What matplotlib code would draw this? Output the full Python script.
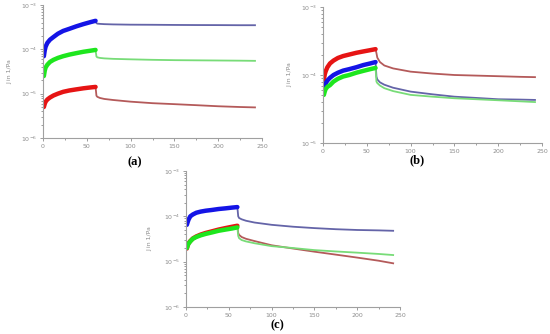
import matplotlib
matplotlib.use("Agg")
import matplotlib.pyplot as plt
from matplotlib.ticker import LogLocator, MultipleLocator, LogFormatterSciNotation, NullFormatter

# ---- data ----
t_creep = [1, 2, 3, 5, 8, 12, 17, 23, 30, 38, 46, 54, 60]
t_rec = [61, 62, 65, 70, 80, 100, 125, 150, 175, 200, 225, 242]

# panel (a)
a_blue_creep = [7.0e-5, 9.5e-5, 1.15e-4, 1.4e-4, 1.65e-4, 1.9e-4, 2.25e-4, 2.6e-4, 2.9e-4, 3.3e-4, 3.7e-4, 4.1e-4, 4.4e-4]
a_blue_rec = [3.9e-4, 3.8e-4, 3.75e-4, 3.7e-4, 3.65e-4, 3.6e-4, 3.58e-4, 3.55e-4, 3.53e-4, 3.52e-4, 3.5e-4, 3.5e-4]
a_green_creep = [2.5e-5, 3.3e-5, 3.9e-5, 4.5e-5, 5.2e-5, 5.8e-5, 6.4e-5, 7.0e-5, 7.6e-5, 8.2e-5, 8.8e-5, 9.3e-5, 9.7e-5]
a_green_rec = [6.9e-5, 6.6e-5, 6.4e-5, 6.25e-5, 6.1e-5, 5.95e-5, 5.8e-5, 5.7e-5, 5.65e-5, 5.6e-5, 5.55e-5, 5.5e-5]
a_red_creep = [5.0e-6, 5.9e-6, 6.6e-6, 7.4e-6, 8.2e-6, 9.1e-6, 1.0e-5, 1.1e-5, 1.18e-5, 1.25e-5, 1.32e-5, 1.38e-5, 1.42e-5]
a_red_rec = [9.0e-6, 8.5e-6, 8.0e-6, 7.6e-6, 7.2e-6, 6.6e-6, 6.1e-6, 5.8e-6, 5.5e-6, 5.2e-6, 5.0e-6, 4.9e-6]

# panel (b)
b_red_creep = [8.5e-5, 1.02e-4, 1.13e-4, 1.3e-4, 1.48e-4, 1.63e-4, 1.78e-4, 1.9e-4, 2.0e-4, 2.12e-4, 2.22e-4, 2.32e-4, 2.4e-4]
b_red_rec = [2.1e-4, 1.8e-4, 1.55e-4, 1.38e-4, 1.25e-4, 1.12e-4, 1.05e-4, 1.0e-4, 9.8e-5, 9.6e-5, 9.4e-5, 9.3e-5]
b_blue_creep = [6.0e-5, 6.9e-5, 7.5e-5, 8.3e-5, 9.1e-5, 1.0e-4, 1.08e-4, 1.16e-4, 1.22e-4, 1.3e-4, 1.4e-4, 1.48e-4, 1.55e-4]
b_blue_rec = [9.5e-5, 8.6e-5, 7.8e-5, 7.2e-5, 6.5e-5, 5.7e-5, 5.2e-5, 4.8e-5, 4.6e-5, 4.4e-5, 4.35e-5, 4.3e-5]
b_green_creep = [5.1e-5, 5.7e-5, 6.2e-5, 6.7e-5, 7.1e-5, 8.0e-5, 8.8e-5, 9.5e-5, 1.0e-4, 1.08e-4, 1.15e-4, 1.22e-4, 1.27e-4]
b_green_rec = [8.0e-5, 7.6e-5, 7.0e-5, 6.4e-5, 5.8e-5, 5.1e-5, 4.8e-5, 4.55e-5, 4.4e-5, 4.25e-5, 4.1e-5, 4.0e-5]

# panel (c)
c_blue_creep = [6.5e-5, 7.5e-5, 8.5e-5, 1.0e-4, 1.1e-4, 1.2e-4, 1.27e-4, 1.33e-4, 1.38e-4, 1.45e-4, 1.5e-4, 1.56e-4, 1.6e-4]
c_blue_rec = [1.0e-4, 9.2e-5, 8.6e-5, 8.0e-5, 7.3e-5, 6.5e-5, 5.9e-5, 5.5e-5, 5.2e-5, 5.0e-5, 4.9e-5, 4.8e-5]
c_red_creep = [1.95e-5, 2.3e-5, 2.55e-5, 2.85e-5, 3.25e-5, 3.6e-5, 3.95e-5, 4.3e-5, 4.65e-5, 5.1e-5, 5.5e-5, 5.9e-5, 6.2e-5]
c_red_rec = [4.3e-5, 3.9e-5, 3.5e-5, 3.2e-5, 2.85e-5, 2.3e-5, 1.95e-5, 1.66e-5, 1.43e-5, 1.23e-5, 1.05e-5, 9.2e-6]
c_green_creep = [2.0e-5, 2.3e-5, 2.5e-5, 2.8e-5, 3.2e-5, 3.5e-5, 3.8e-5, 4.1e-5, 4.4e-5, 4.8e-5, 5.1e-5, 5.4e-5, 5.7e-5]
c_green_rec = [3.7e-5, 3.3e-5, 3.0e-5, 2.8e-5, 2.55e-5, 2.2e-5, 2.0e-5, 1.8e-5, 1.68e-5, 1.58e-5, 1.48e-5, 1.4e-5]

panels = {
    "(a)": [(a_blue_creep, a_blue_rec, "blue"), (a_green_creep, a_green_rec, "green"), (a_red_creep, a_red_rec, "red")],
    "(b)": [(b_red_creep, b_red_rec, "red"), (b_blue_creep, b_blue_rec, "blue"), (b_green_creep, b_green_rec, "green")],
    "(c)": [(c_blue_creep, c_blue_rec, "blue"), (c_red_creep, c_red_rec, "red"), (c_green_creep, c_green_rec, "green")],
}
ylims = {"(a)": (1e-6, 1e-3), "(b)": (1e-5, 1e-3), "(c)": (1e-6, 1e-3)}

# ---- styles ----
creep_col = {"blue": "#1414e6", "green": "#1ee61e", "red": "#e61414"}
rec_col = {"blue": "#6464a8", "green": "#78dc78", "red": "#b45a5a"}

W, H = 550, 334
fig = plt.figure(figsize=(W / 100, H / 100), dpi=100)

def box(x0, x1, ytop, ybot):
    return [x0 / W, 1 - ybot / H, (x1 - x0) / W, (ybot - ytop) / H]

pos = {
    "(a)": box(43, 262, 5, 138),
    "(b)": box(323, 542, 7, 143),
    "(c)": box(186, 400, 171, 307),
}
caption_xy = {"(a)": (135, 162), "(b)": (417, 160), "(c)": (277, 325)}
ylabel_x = {"(a)": 10, "(b)": 290, "(c)": 150}

gray = "#8c8c8c"
for key, series in panels.items():
    ax = fig.add_axes(pos[key])
    for creep, rec, c in series:
        ax.plot([t_creep[-1]] + t_rec, [creep[-1]] + rec, color=rec_col[c], lw=1.3)
        ax.plot(t_creep, creep, color=creep_col[c], lw=3.2, solid_capstyle="round")
    ax.set_yscale("log")
    ax.set_ylim(*ylims[key])
    ax.set_xlim(0, 250)
    ax.xaxis.set_major_locator(MultipleLocator(50))
    ax.xaxis.set_minor_locator(MultipleLocator(25))
    ax.yaxis.set_major_locator(LogLocator(base=10, numticks=10))
    ax.yaxis.set_minor_locator(LogLocator(base=10, subs=range(2, 10), numticks=10))
    ax.yaxis.set_major_formatter(LogFormatterSciNotation())
    ax.yaxis.set_minor_formatter(NullFormatter())
    for s in ["top", "right"]:
        ax.spines[s].set_visible(False)
    for s in ["left", "bottom"]:
        ax.spines[s].set_color("#a0a0a0")
        ax.spines[s].set_linewidth(0.8)
    ax.tick_params(which="both", colors=gray, labelsize=4.5, width=0.6, pad=1.5)
    ax.tick_params(which="major", length=2.5)
    ax.tick_params(which="minor", length=1.5)
    ax.set_facecolor("none")
    cx, cy = caption_xy[key]
    fig.text(cx / W, 1 - cy / H, key, ha="center", va="center", fontsize=9,
             fontweight="bold", fontfamily=["Liberation Serif", "DejaVu Serif"])
    p = pos[key]
    fig.text(ylabel_x[key] / W, p[1] + p[3] / 2, "J in 1/Pa", rotation=90, ha="center",
             va="center", fontsize=4.5, color=gray)

fig.savefig("out.png", dpi=100)
